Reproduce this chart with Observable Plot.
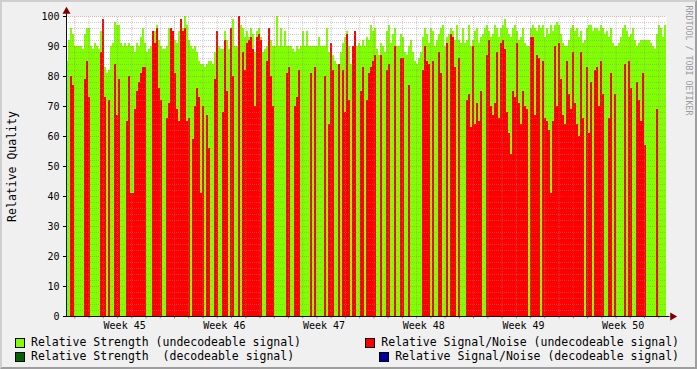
<!DOCTYPE html>
<html><head><meta charset="utf-8">
<script src="https://cdn.jsdelivr.net/npm/d3@7"></script>
<script src="https://cdn.jsdelivr.net/npm/@observablehq/plot@0.6"></script>
<style>
html,body{margin:0;padding:0;background:#F0F0F0;}
#wrap{position:relative;width:697px;height:369px;background:#F0F0F0;font-family:"DejaVu Sans Mono",monospace;overflow:hidden;}
#shade{position:absolute;left:0;top:0;width:697px;height:369px;box-sizing:border-box;border-top:2px solid #CFCFCF;border-left:2px solid #CFCFCF;border-right:2px solid #9E9E9E;border-bottom:2px solid #9E9E9E;pointer-events:none;}
#chart{position:absolute;left:0;top:0;}
.legend{position:absolute;left:15px;right:18px;height:13px;font-size:11.5px;line-height:13px;display:flex;justify-content:space-between;white-space:pre;color:#000;}
.item{display:flex;align-items:center;}
.sw{width:8px;height:8px;border:1px solid #000;margin-right:6px;}
</style></head>
<body>
<div id="wrap">
  <div id="chart"></div>
  <div class="legend" style="top:336px">
    <div class="item"><span class="sw" style="background:#7FFF00"></span><span>Relative Strength (undecodeable signal)</span></div>
    <div class="item"><span class="sw" style="background:#FF0000"></span><span>Relative Signal/Noise (undecodeable signal)</span></div>
  </div>
  <div class="legend" style="top:350px">
    <div class="item"><span class="sw" style="background:#006600"></span><span>Relative Strength  (decodeable signal)</span></div>
    <div class="item"><span class="sw" style="background:#0000A0"></span><span>Relative Signal/Noise (decodeable signal)</span></div>
  </div>
  <div id="shade"></div>
</div>
<script>
// ISO weeks shown on the x axis
const weeks = [45, 46, 47, 48, 49, 50];

// Relative Strength (undecodeable signal), one value per time slot
const strength = [
85,92,96,94,90,90,90,90,89,94, 96,96,90,89,91,90,89,95,95,83,
81,82,90,91,98,97,97,91,90,91, 90,91,90,90,88,91,90,93,96,91,
88,89,90,92,95,97,92,90,89,89, 90,96,96,94,92,91,95,98,96,100,
97,92,90,89,90,88,85,84,84,83, 84,85,85,84,88,
92,90,89,89,95,92,89,96,99,90, 90,95,97,96,93,95,93,96,94,88,
95,96,93,88,89,90,96,92,90,90, 100,90,96,90,95,90,90,90,89,88,
90,89,90,95,90,95,90,90,90,90, 90,93,90,90,90,96,88,90,87,85,
84,84,88,91,93,95,90,84,90,93, 90,91,90,92,90,
93,92,97,95,96,89,87,91,90,88, 95,97,91,94,96,90,90,94,93,88,
87,90,92,88,85,84,86,88,93,96, 94,91,96,95,90,92,94,96,97,90,
93,94,96,95,92,97,92,91,96,91, 92,97,90,92,95,96,91,93,94,96,
97,95,93,94,97,96,93,96,97,99, 96,94,93,96,97,
95,92,93,96,91,90,90,96,97,96, 95,97,96,97,93,96,94,97,95,97,
98,97,94,91,90,90,92,96,97,95, 96,93,95,91,92,96,97,97,95,96,
96,95,97,96,94,95,93,96,91,90, 90,91,93,96,97,95,93,94,96,92,
90,91,92,92,92,92,92,91,90,89, 94,97,96,93,97
];

// Relative Signal/Noise (undecodeable signal), 0 where none
const signalNoise = [
0,0,80,77,0,0,0,0,0,79, 85,73,0,0,0,0,0,88,99,73,
0,72,0,0,84,67,79,0,0,0, 65,80,41,41,69,75,78,81,83,83,
0,0,0,95,91,96,76,72,0,0, 66,71,96,95,81,69,65,99,95,96,
65,66,0,59,70,76,73,41,70,0, 67,56,0,0,79,
95,0,0,68,92,75,0,96,80,0, 0,100,0,88,82,91,92,93,89,70,
93,94,92,0,0,85,96,80,70,0, 0,0,0,0,0,81,83,0,0,70,
73,82,0,0,0,0,0,81,0,83, 0,0,0,0,80,0,64,91,82,0,
0,84,0,82,68,94,72,0,90,95, 0,0,75,83,0,
72,81,83,85,87,0,0,87,0,0, 82,84,0,0,90,0,0,86,86,0,
0,77,0,0,0,0,0,0,82,90, 85,84,0,85,0,0,88,81,0,0,
91,0,94,93,83,0,86,0,0,0, 72,74,63,90,64,71,65,75,0,0,
87,92,70,67,71,88,66,91,92,89, 68,61,54,75,73,
91,71,64,75,70,69,0,93,93,67, 87,86,0,85,66,65,62,41,65,90,
70,91,79,67,64,85,74,69,88,71, 64,60,88,66,0,83,61,78,0,82,
83,70,85,74,0,0,66,81,0,74, 0,0,0,0,84,0,85,76,0,0,
78,72,65,81,57,0,0,0,0,0, 69,0,0,0,0
];

const H = 3600e3;
const week45Monday = Date.UTC(2004, 10, 1);   // Monday of ISO week 45, 2004
const slotHours = 3.37;                        // length of one time slot
const start = new Date(week45Monday - 14 * H);
const slot = i => new Date(+start + i * slotHours * H);
const end = slot(strength.length);

const bars = strength.map((g, i) => ({x1: slot(i), x2: slot(i + 1), g, r: signalNoise[i]}));
const redBars = bars.filter(d => d.r > 0);

const mondays = d3.utcMonday.range(start, end);
const days = d3.utcDay.range(start, end).filter(d => d.getUTCDay() !== 1);
const weekMid = mondays.map(m => new Date(+m + 3.5 * 24 * H));
const yMinor = d3.range(0, 101, 2).filter(v => v % 10 !== 0);
const yMajor = d3.range(0, 101, 10);

const plot = Plot.plot({
  width: 697, height: 332,
  marginLeft: 66, marginRight: 31, marginTop: 16, marginBottom: 16,
  style: {background: "transparent", fontFamily: "DejaVu Sans Mono, monospace", fontSize: "10px", color: "#000"},
  x: {type: "utc", domain: [start, end]},
  y: {domain: [0, 100]},
  marks: [
    Plot.frame({fill: "white", stroke: "none"}),
    Plot.rectY(bars, {x1: "x1", x2: "x2", y: "g", fill: "#7FFF00", shapeRendering: "crispEdges"}),
    Plot.rectY(redBars, {x1: "x1", x2: "x2", y: "r", fill: "#FF0000", shapeRendering: "crispEdges"}),
    Plot.ruleY(yMinor, {stroke: "#8F8F8F", strokeOpacity: 0.45, strokeDasharray: "1,1"}),
    Plot.ruleX(days, {y1: 0, y2: 100, stroke: "#8F8F8F", strokeOpacity: 0.45, strokeDasharray: "1,1"}),
    Plot.ruleY(yMajor, {stroke: "#DE5050", strokeOpacity: 0.45, strokeDasharray: "1,1"}),
    Plot.ruleX(mondays, {y1: 0, y2: 100, stroke: "#DE5050", strokeOpacity: 0.45, strokeDasharray: "1,1"}),
    Plot.ruleX(days, {y1: 0, y2: -0.8, stroke: "#8F8F8F"}),
    Plot.ruleX(mondays, {y1: 0, y2: -0.8, stroke: "#DE5050"}),
    Plot.ruleX([start], {y1: 0, y2: 102.5, stroke: "#101010"}),
    Plot.ruleY([0], {x1: new Date(+start - 5 * H), x2: new Date(+end + 6 * H), stroke: "#101010"}),
    Plot.dot([0], {frameAnchor: "top-left", dy: -5, symbol: "triangle", r: 3, fill: "#800000", stroke: "none"}),
    Plot.dot([0], {frameAnchor: "bottom-right", dx: 6, symbol: "triangle", r: 3, rotate: 90, fill: "#800000", stroke: "none"}),
    Plot.axisY({ticks: yMajor, tickSize: 3, tickPadding: 4, label: null, fontSize: 10}),
    Plot.axisX({ticks: weekMid, tickSize: 0, tickPadding: 5, label: null, fontSize: 10,
      tickFormat: d => "Week " + weeks[weekMid.findIndex(m => +m === +d)]}),
    Plot.text(["Relative Quality"], {frameAnchor: "left", dx: -54, rotate: -90, fontSize: 11.5, textAnchor: "middle", lineAnchor: "middle", fill: "#000"}),
    Plot.text(["RRDTOOL / TOBI OETIKER"], {frameAnchor: "top-right", dx: 22, dy: -11, rotate: 90, fontSize: 8.3, textAnchor: "start", lineAnchor: "middle", fill: "#9A9A9A"})
  ]
});
document.getElementById("chart").appendChild(plot);
</script>
</body></html>
